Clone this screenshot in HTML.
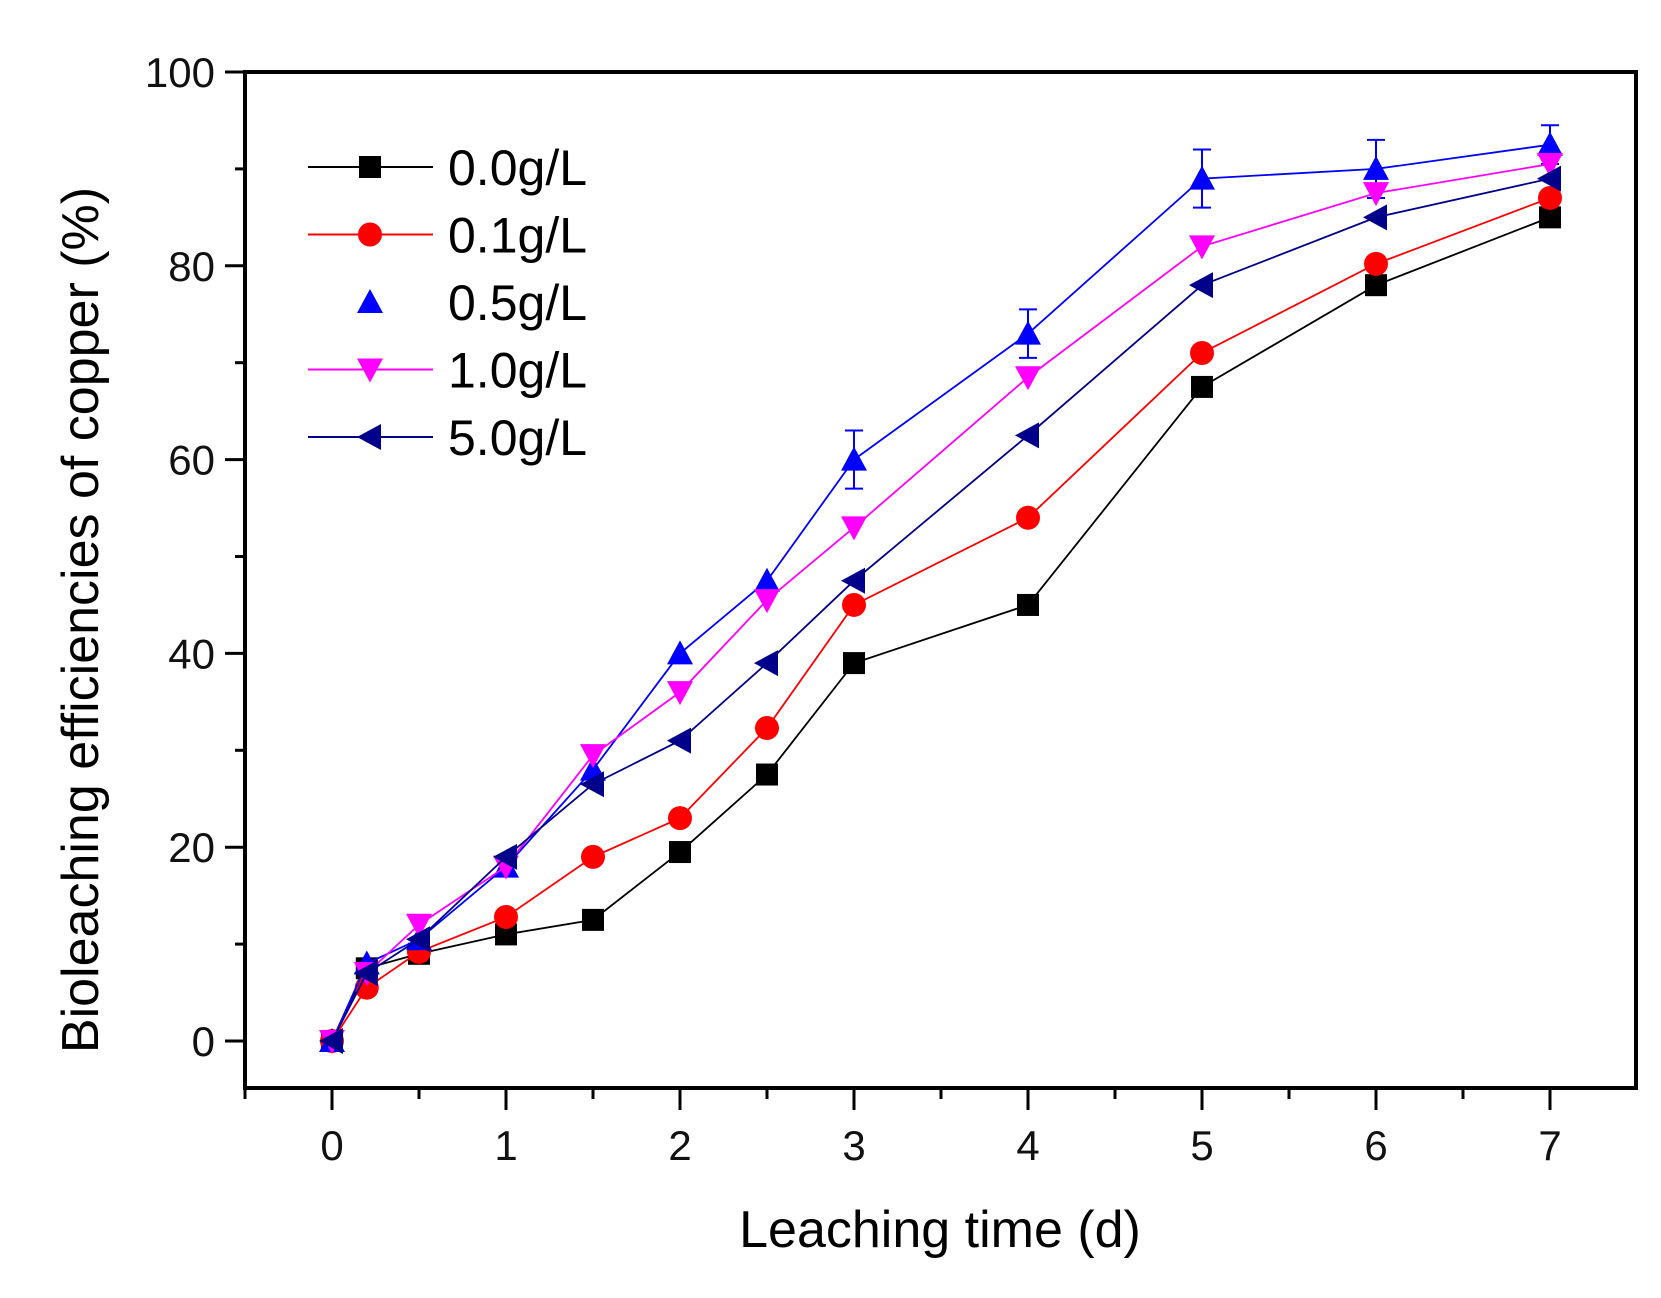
<!DOCTYPE html>
<html><head><meta charset="utf-8"><style>
body{margin:0;background:#fff}
svg text{font-family:"Liberation Sans",sans-serif}
</style></head><body>
<svg id="chart" width="1661" height="1293" viewBox="0 0 1661 1293">
<rect width="1661" height="1293" fill="#fff"/>
<g id="axes"></g>
<g id="series"></g>
<g id="legend"></g>
<text x="940" y="1247" font-size="52" text-anchor="middle">Leaching time (d)</text>
<text transform="translate(98,620) rotate(-90)" font-size="52" text-anchor="middle">Bioleaching efficiencies of copper (%)</text>
</svg>
<script>
const xs=[0,0.2,0.5,1,1.5,2,2.5,3,4,5,6,7];
const s00=[0,7.5,9,11,12.5,19.5,27.5,39,45,67.5,78,85];
const s01=[0,5.5,9.2,12.8,19,23,32.3,45,54,71,80.2,87];
const s05=[0,8,10.5,18,28,40,47.5,60,73,89,90,92.5];
const s10=[0,7,12,18,29.5,36,45.5,53,68.5,82,87.5,90.5];
const s50=[0,7,10.5,19,26.5,31,39,47.5,62.5,78,85,89];
const err05=[0,1,1,1,1,1,1,3,2.5,3,3,2];
const xTicks=[0,1,2,3,4,5,6,7];
const yTicks=[0,20,40,60,80,100];
const names=["0.0g/L","0.1g/L","0.5g/L","1.0g/L","5.0g/L"];
const NS="http://www.w3.org/2000/svg";
const X=v=>332+v*174, Y=v=>1041-v*9.69;
const L=245,R=1636,T=72,B=1088;
function el(t,a,p){const e=document.createElementNS(NS,t);for(const k in a)e.setAttribute(k,a[k]);p.appendChild(e);return e;}
const ax=document.getElementById('axes');
const frame=el('rect',{x:L,y:T,width:R-L,height:B-T,fill:'none',stroke:'#000','stroke-width':4},ax);


for(let v=-0.5;v<=7.45;v+=0.5){const maj=Math.abs(v-Math.round(v))<1e-6&&v>=0;
 const t=el('line',{x1:X(v),x2:X(v),y1:B,y2:B+(maj?22:11),stroke:'#000','stroke-width':3},ax);
 
 }
xTicks.forEach(v=>{const t=el('text',{x:X(v),y:B+72,'font-size':42,'text-anchor':'middle',fill:'#111'},ax);t.textContent=v;
 
 });
for(let v=0;v<=100;v+=10){const maj=v%20==0;
 const t=el('line',{x1:L,x2:L-(maj?20:10),y1:Y(v),y2:Y(v),stroke:'#000','stroke-width':3},ax);
 
 }
yTicks.forEach(v=>{const t=el('text',{x:L-30,y:Y(v)+15,'font-size':42,'text-anchor':'end',fill:'#111'},ax);t.textContent=v;
 
 });
function marker(type,cx,cy,c,p){const s=11;let e;
 if(type=='sq')e=el('rect',{x:cx-s,y:cy-s,width:2*s,height:2*s,fill:c},p);
 else if(type=='ci')e=el('circle',{cx,cy,r:s+1,fill:c},p);
 else if(type=='up')e=el('polygon',{points:`${cx},${cy-s-2} ${cx-s-2},${cy+s} ${cx+s+2},${cy+s}`,fill:c},p);
 else if(type=='dn')e=el('polygon',{points:`${cx},${cy+s+2} ${cx-s-2},${cy-s} ${cx+s+2},${cy-s}`,fill:c},p);
 else e=el('polygon',{points:`${cx-s-2},${cy} ${cx+s},${cy-s-2} ${cx+s},${cy+s+2}`,fill:c},p);
 return e;}
const defs=[[s00,'#000','sq',true],[s01,'#f00','ci',true],[s05,'#00f','up',false],[s10,'#f0f','dn',true],[s50,'#00008b','le',true]];
const sg=document.getElementById('series'),lg=document.getElementById('legend');
const eg=el('g',{},sg);


xs.forEach((x,i)=>{if(err05[i]<1.5)return;const a=Y(s05[i]+err05[i]),b=Y(s05[i]-err05[i]);
 el('line',{x1:X(x),x2:X(x),y1:a,y2:b,stroke:'#00f','stroke-width':2},eg);
 el('line',{x1:X(x)-9,x2:X(x)+9,y1:a,y2:a,stroke:'#00f','stroke-width':2},eg);
 el('line',{x1:X(x)-9,x2:X(x)+9,y1:b,y2:b,stroke:'#00f','stroke-width':2},eg);});
defs.forEach((d,k)=>{const [vals,c,m]=d;
 const g=el('g',{},sg);
 
 
 el('polyline',{points:xs.map((x,i)=>X(x)+','+Y(vals[i])).join(' '),fill:'none',stroke:c,'stroke-width':1.8},g);
 xs.forEach((x,i)=>{const mk=marker(m,X(x),Y(vals[i]),c,g);
  
  });
 const ly=167+k*67.5;
 const le=el('g',{},lg);
 
 
 if(d[3])el('line',{x1:308,x2:433,y1:ly,y2:ly,stroke:c,'stroke-width':2},le);
 marker(m,370,ly,c,le);
 const t=el('text',{x:448,y:ly+18,'font-size':50},le);t.textContent=names[k];});
</script>
</body></html>
